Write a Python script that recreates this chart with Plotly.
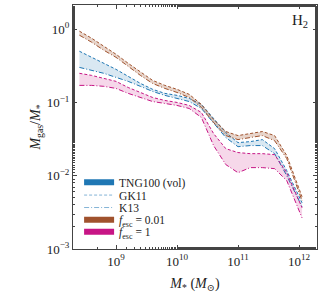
import plotly.graph_objects as go

# log10 of stellar mass (M_sun) bin centres
log_mstar = [8.4, 8.6, 8.8, 9.0, 9.2, 9.4, 9.6, 9.8, 10.0, 10.2, 10.4, 10.6, 10.8, 11.0, 11.2, 11.4, 11.6, 11.8, 12.05]

# TNG100 (vol) band: GK11 (upper, dashed), K13 (lower, dash-dot)
tng_gk11 = [0.50, 0.413, 0.342, 0.283, 0.227, 0.182, 0.151, 0.133, 0.125, 0.1135, 0.094, 0.0604, 0.0388, 0.0283, 0.0292, 0.0311, 0.0234, 0.0117, 0.00427]
tng_k13 = [0.301, 0.274, 0.250, 0.220, 0.194, 0.166, 0.1415, 0.125, 0.1135, 0.103, 0.0828, 0.0515, 0.0332, 0.0249, 0.0258, 0.0258, 0.0200, 0.0100, 0.00376]

# f_esc = 0.01 band
f001_gk11 = [0.94, 0.753, 0.585, 0.455, 0.342, 0.258, 0.200, 0.171, 0.151, 0.129, 0.094, 0.0585, 0.0401, 0.0353, 0.0376, 0.0401, 0.0353, 0.0188, 0.00516]
f001_k13 = [0.828, 0.664, 0.516, 0.413, 0.311, 0.234, 0.182, 0.1555, 0.137, 0.117, 0.0855, 0.0532, 0.0353, 0.0311, 0.0332, 0.0353, 0.0301, 0.0171, 0.00455]

# f_esc = 1 band
f1_gk11 = [0.250, 0.234, 0.213, 0.194, 0.160, 0.137, 0.117, 0.1065, 0.100, 0.091, 0.073, 0.0376, 0.0234, 0.0207, 0.0200, 0.0200, 0.0194, 0.0110, 0.00365]
f1_k13 = [0.171, 0.171, 0.166, 0.1555, 0.133, 0.117, 0.103, 0.097, 0.091, 0.0828, 0.0623, 0.0258, 0.0142, 0.0110, 0.0129, 0.0129, 0.0125, 0.00855, 0.00266]

x_ticks = [1e9, 1e10, 1e11, 1e12]
x_ticktext = ["10<sup>9</sup>", "10<sup>10</sup>", "10<sup>11</sup>", "10<sup>12</sup>"]
y_ticks = [1e-3, 1e-2, 1e-1, 1e0]
y_ticktext = ["10<sup>−3</sup>", "10<sup>−2</sup>", "10<sup>−1</sup>", "10<sup>0</sup>"]

legend_names = ["TNG100 (vol)", "GK11", "K13",
                "<i>f</i><sub>esc</sub> = 0.01", "<i>f</i><sub>esc</sub> = 1"]

mstar = [10 ** l for l in log_mstar]

SERIF = "Liberation Serif, DejaVu Serif, serif"
DASH = "3px,2px"
DASHDOT = "5px,2px,1px,2px"
BLUE, BROWN, PINK = "#1f77b4", "#a0522d", "#c71585"

bands = [
    (tng_gk11, tng_k13, BLUE, "rgba(31,119,180,0.17)"),
    (f001_gk11, f001_k13, BROWN, "rgba(160,82,45,0.25)"),
    (f1_gk11, f1_k13, PINK, "rgba(199,21,133,0.17)"),
]

fig = go.Figure()

for upper, lower, col, fillcol in bands:
    fig.add_trace(go.Scatter(x=mstar, y=lower, mode="lines",
                             line=dict(color=col, width=1, dash=DASHDOT),
                             showlegend=False, hoverinfo="skip"))
    fig.add_trace(go.Scatter(x=mstar, y=upper, mode="lines", fill="tonexty",
                             fillcolor=fillcol,
                             line=dict(color=col, width=1, dash=DASH),
                             showlegend=False, hoverinfo="skip"))

# legend entries (one legend per row for matplotlib-like tight spacing)
fig.add_trace(go.Scatter(x=[None], y=[None], mode="none", fill="toself",
                         fillcolor=BLUE, name=legend_names[0], legend="legend"))
fig.add_trace(go.Scatter(x=[None], y=[None], mode="lines",
                         line=dict(color="rgba(31,119,180,0.55)", width=1, dash=DASH),
                         name=legend_names[1], legend="legend2"))
fig.add_trace(go.Scatter(x=[None], y=[None], mode="lines",
                         line=dict(color="rgba(31,119,180,0.55)", width=1, dash=DASHDOT),
                         name=legend_names[2], legend="legend3"))
fig.add_trace(go.Scatter(x=[None], y=[None], mode="none", fill="toself",
                         fillcolor=BROWN, name=legend_names[3], legend="legend4"))
fig.add_trace(go.Scatter(x=[None], y=[None], mode="none", fill="toself",
                         fillcolor=PINK, name=legend_names[4], legend="legend5"))

axis_common = dict(
    showline=True, linecolor="#444", linewidth=1, mirror="allticks",
    ticks="inside", ticklen=4, tickcolor="#444", showgrid=False, zeroline=False,
    tickfont=dict(family=SERIF, size=13, color="#222"),
    minor=dict(ticks="inside", ticklen=2, tickcolor="#444", showgrid=False),
)

fig.update_xaxes(type="log", range=[8.295, 12.295], tickvals=x_ticks, ticktext=x_ticktext,
                 title=dict(text="<i>M</i><sub>*</sub> (<i>M</i><sub>⊙</sub>)",
                            font=dict(family=SERIF, size=14, color="#222"), standoff=10),
                 **axis_common)
fig.update_yaxes(type="log", range=[-3, 0.33], tickvals=y_ticks, ticktext=y_ticktext,
                 title=dict(text="<i>M</i><sub>gas</sub>/<i>M</i><sub>*</sub>",
                            font=dict(family=SERIF, size=14, color="#222"), standoff=2),
                 **axis_common)

fig.add_annotation(text="H<sub>2</sub>", xref="paper", yref="paper", x=0.97, y=0.935,
                   xanchor="right", yanchor="middle", showarrow=False,
                   font=dict(family=SERIF, size=15, color="#222"))

legend_y = [0.274, 0.221, 0.170, 0.120, 0.071]
leg_common = dict(x=0.025, xanchor="left", yanchor="middle",
                  bgcolor="rgba(255,255,255,0)",
                  font=dict(family=SERIF, size=11.5, color="#222"), itemwidth=30)
legends = {}
for i, yy in enumerate(legend_y):
    key = "legend" if i == 0 else f"legend{i + 1}"
    legends[key] = dict(y=yy, **leg_common)

fig.update_layout(
    width=319, height=294,
    margin=dict(l=73, r=2, t=5, b=45),
    plot_bgcolor="white", paper_bgcolor="white",
    **legends,
)

fig.write_html("out.html", config={"displayModeBar": False},
               post_script="document.body.style.margin='0';")
